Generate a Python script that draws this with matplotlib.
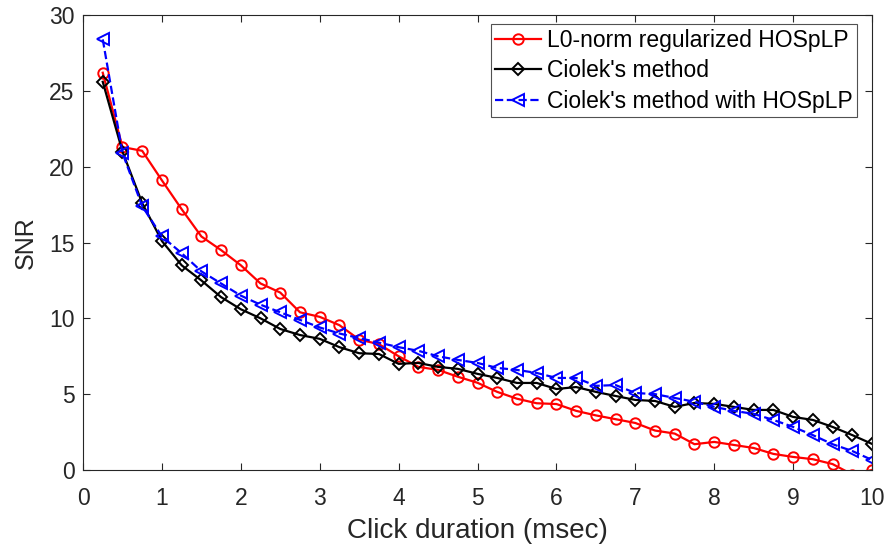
import matplotlib
matplotlib.use('Agg')
import matplotlib.pyplot as plt

plt.rcParams['font.family'] = ['Liberation Sans', 'DejaVu Sans']

duration = [0.25 * (i + 1) for i in range(40)]

snr_l0 = [26.2, 21.3, 21.05, 19.1, 17.2, 15.4, 14.5, 13.5, 12.3, 11.7,
          10.4, 10.1, 9.55, 8.6, 8.3, 7.5, 6.8, 6.6, 6.15, 5.75,
          5.15, 4.7, 4.4, 4.35, 3.9, 3.6, 3.35, 3.1, 2.6, 2.4,
          1.7, 1.85, 1.65, 1.45, 1.06, 0.86, 0.71, 0.39, -0.3, 0.0]

snr_ciolek = [25.6, 21.0, 17.6, 15.1, 13.5, 12.5, 11.4, 10.6, 10.0, 9.3,
              8.9, 8.65, 8.1, 7.7, 7.65, 7.0, 7.06, 6.8, 6.67, 6.34,
              6.07, 5.74, 5.74, 5.34, 5.47, 5.15, 4.88, 4.62, 4.55, 4.16,
              4.42, 4.36, 4.16, 3.96, 3.96, 3.5, 3.3, 2.84, 2.3, 1.72]

snr_ciolek_hosplp = [28.4, 20.9, 17.4, 15.4, 14.3, 13.1, 12.3, 11.5, 10.9, 10.4,
                     9.9, 9.4, 9.0, 8.7, 8.4, 8.1, 7.86, 7.5, 7.26, 7.06,
                     6.73, 6.6, 6.4, 6.07, 6.07, 5.55, 5.6, 5.08, 5.0, 4.75,
                     4.5, 4.16, 3.9, 3.7, 3.3, 2.84, 2.3, 1.7, 1.25, 0.66]

fig = plt.figure(figsize=(8.88, 5.5), dpi=100)
ax = fig.add_axes([0.0935, 0.1455, 0.8885, 0.827])

ax.plot(duration, snr_l0, '-o', color='red', lw=1.6, ms=7.5, mfc='none', mew=1.4,
        label='L0-norm regularized HOSpLP')
ax.plot(duration, snr_ciolek, '-D', color='black', lw=1.6, ms=6, mfc='none', mew=1.4,
        label="Ciolek's method")
ax.plot(duration, snr_ciolek_hosplp, '--<', color='blue', lw=1.6, ms=8.5, mfc='none', mew=1.4,
        label="Ciolek's method with HOSpLP")

ax.set_xlim(0, 10)
ax.set_ylim(0, 30)
ax.set_xticks(range(0, 11))
ax.set_yticks(range(0, 31, 5))
ax.tick_params(direction='in', top=True, right=True, labelsize=16.5, length=5,
               colors='#262626')
ax.tick_params(axis='x', pad=12)
ax.tick_params(axis='y', pad=6)
for s in ax.spines.values():
    s.set_color('#262626')
    s.set_linewidth(0.8)
ax.set_xlabel('Click duration (msec)', fontsize=20, color='#262626', labelpad=6)
ax.set_ylabel('SNR', fontsize=18, color='#262626', labelpad=8)

leg = ax.legend(loc='upper right', bbox_to_anchor=(857 / 888, 1 - 24 / 550),
                bbox_transform=fig.transFigure, borderaxespad=0,
                fontsize=16.5, fancybox=False, edgecolor='#262626',
                handlelength=2.0, borderpad=0.2, labelspacing=0.33,
                handletextpad=0.25)
leg.get_frame().set_linewidth(0.8)

fig.savefig('out.png', dpi=100)
